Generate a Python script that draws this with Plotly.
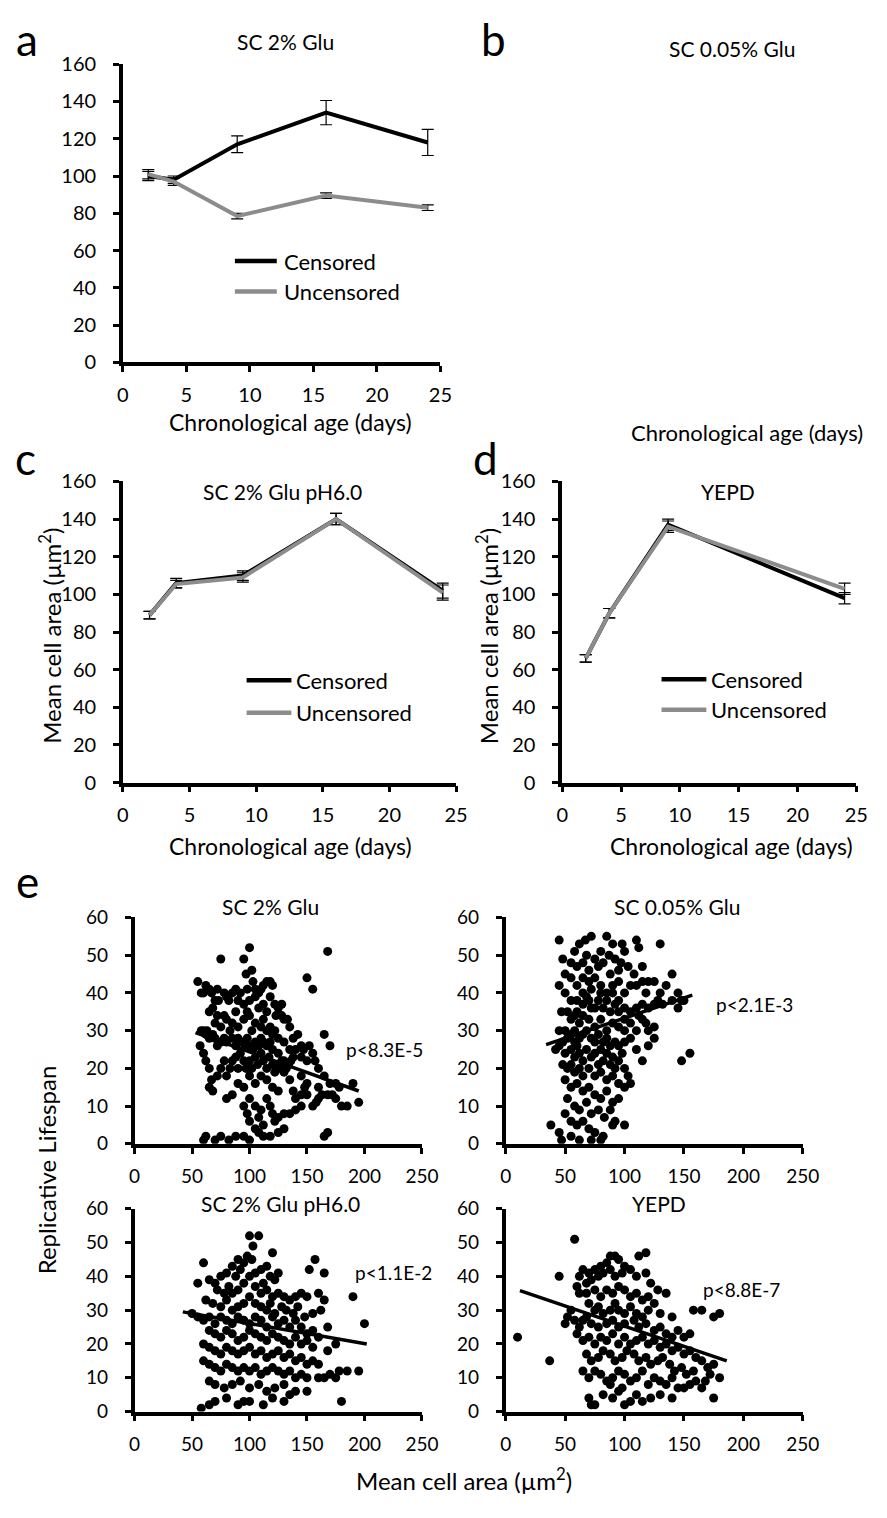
import plotly.graph_objects as go

W, H = 887, 1518
FONT = "Lato"

# ---------------- data: line panels ----------------
days_a = [2, 4, 9, 16, 24]
a_cens = [100, 98, 117, 134, 118]
a_cens_err = [2.5, 2, 4.5, 6.5, 7]
a_unc = [101, 97, 78.5, 89.5, 83]
a_unc_err = [2.5, 2, 1.5, 1.5, 1.5]

days_c = [2, 4, 9, 16, 24]
c_cens = [89, 106, 110, 140, 102]
c_cens_err = [2, 2.5, 2.5, 3, 4]
c_unc = [89, 105.5, 109, 140, 101]
c_unc_err = [2, 2, 2.5, 3, 4]

days_d = [2, 4, 9, 24]
d_cens = [66, 90, 137, 98]
d_cens_err = [2, 2.5, 3, 3]
d_unc = [66, 90, 136, 103]
d_unc_err = [2, 2.5, 3, 3]

series_names = ["Censored", "Uncensored"]

# ---------------- data: scatter panels (mean cell area, lifespan) ----------------
e1_pts = [(55,43),(58,40),(62,42),(65,41),(60,40),(67,40),(75,49),(72,41),(70,38),(73,38),(78,40),(80,39),(82,38),(85,40),(88,41),(90,38),(92,40),(95,49),(97,45),(98,41),(100,52),(102,46),(103,43),(105,41),(108,40),(110,41),(112,42),(115,43),(118,43),(120,42),(100,38),(95,37),(105,39),(112,37),(118,39),(150,44),(155,41),(168,51),(122,37),(130,33),(133,33),(128,34),(125,36),(115,35),(108,36),(98,35),(88,35),(78,34),(72,34),(68,36),(65,35),(70,32),(75,31),(80,33),(85,32),(90,31),(95,33),(100,34),(102,30),(105,32),(110,31),(112,33),(115,30),(118,31),(120,29),(122,30),(125,28),(130,27),(135,25),(140,25),(145,23),(150,22),(147,25),(145,26),(152,26),(155,24),(157,22),(165,29),(160,20),(165,18),(170,16),(175,16),(185,10),(190,16),(195,11),(180,10),(175,12),(172,13),(168,13),(178,15),(160,12),(155,10),(150,13),(145,10),(140,12),(138,14),(135,17),(130,19),(128,22),(125,24),(120,25),(118,27),(115,26),(112,27),(110,28),(108,26),(105,27),(103,25),(100,26),(98,28),(96,26),(93,27),(90,28),(88,26),(85,28),(83,30),(80,27),(78,28),(75,27),(72,26),(70,28),(65,28),(58,30),(60,30),(62,29),(63,30),(68,29),(60,24),(57,26),(62,22),(65,20),(67,17),(65,15),(68,14),(72,18),(75,20),(78,22),(80,18),(83,20),(85,22),(88,23),(90,20),(92,24),(95,22),(97,20),(100,22),(102,20),(105,23),(107,21),(110,24),(112,22),(115,20),(117,23),(120,21),(122,19),(125,20),(127,21),(130,22),(132,20),(134,21),(136,22),(138,23),(100,18),(105,16),(110,18),(115,17),(120,15),(125,14),(95,15),(90,16),(85,13),(80,12),(100,12),(105,10),(110,9),(115,12),(118,10),(120,8),(122,6),(125,7),(130,8),(135,8),(140,9),(108,7),(112,5),(100,6),(105,4),(95,10),(98,8),(60,1),(62,2),(70,1),(75,2),(82,1),(88,2),(95,2),(100,1),(108,3),(112,2),(118,2),(125,3),(130,4),(165,2),(168,3),(160,15),(128,37),(123,34),(135,31),(138,28),(142,29),(145,18),(148,15),(150,16),(170,26),(158,11),(163,13),(145,13)]
e2_pts = [(45,54),(62,53),(67,54),(72,55),(85,55),(90,53),(98,53),(100,51),(110,54),(112,52),(130,53),(48,49),(55,48),(60,47),(65,48),(70,46),(75,49),(78,47),(82,48),(88,45),(92,49),(97,48),(50,45),(55,44),(60,42),(65,44),(70,43),(72,41),(75,44),(80,42),(85,40),(90,42),(95,43),(100,40),(105,42),(110,42),(115,43),(118,40),(120,43),(125,43),(130,40),(135,42),(140,45),(45,42),(50,40),(55,38),(60,38),(65,37),(68,39),(72,36),(78,38),(82,36),(88,35),(92,37),(95,38),(100,36),(105,35),(110,36),(115,37),(120,36),(125,37),(128,38),(132,37),(140,38),(145,36),(148,38),(47,35),(52,35),(55,33),(58,34),(62,32),(65,34),(70,33),(75,31),(80,33),(85,30),(90,32),(95,31),(100,30),(105,32),(110,30),(115,33),(120,30),(125,31),(58,30),(62,28),(65,29),(68,30),(72,28),(75,27),(78,29),(82,27),(85,28),(88,26),(92,27),(95,26),(100,27),(105,28),(110,25),(115,22),(42,25),(45,26),(48,27),(50,24),(55,25),(58,23),(60,26),(62,24),(65,22),(68,25),(72,23),(75,24),(78,21),(80,25),(82,22),(85,24),(88,21),(90,23),(92,20),(95,22),(98,24),(100,20),(103,18),(48,21),(52,20),(55,21),(58,19),(62,20),(65,18),(70,20),(75,18),(80,19),(85,17),(90,18),(95,16),(100,15),(105,16),(50,17),(55,15),(60,16),(65,14),(70,15),(75,13),(80,12),(85,14),(90,11),(95,12),(52,12),(58,10),(62,9),(68,11),(72,8),(78,9),(83,7),(88,9),(92,6),(50,8),(55,6),(60,5),(65,6),(70,4),(75,3),(82,2),(90,5),(100,5),(38,5),(45,3),(47,1),(55,2),(62,1),(72,1),(80,1),(148,22),(155,24),(150,38),(145,40),(68,50),(58,51),(80,51),(87,50),(115,47),(108,45),(95,46),(103,47),(60,35),(65,40),(70,38),(75,36),(80,40),(85,38),(90,40),(95,35),(100,33),(45,30),(50,30),(52,28),(55,29),(58,27),(120,26),(125,28),(118,32),(112,34)]
e3_pts = [(100,52),(108,52),(103,49),(98,46),(102,45),(120,47),(60,44),(90,45),(95,44),(157,45),(165,41),(152,42),(55,38),(65,39),(70,38),(75,40),(80,41),(85,43),(88,40),(92,42),(105,41),(110,42),(115,43),(118,40),(122,39),(125,41),(112,38),(72,36),(78,35),(82,37),(85,35),(90,36),(95,38),(100,40),(105,37),(110,35),(115,36),(120,34),(125,35),(130,34),(135,33),(140,34),(145,35),(150,34),(160,35),(165,33),(190,34),(62,33),(68,32),(75,31),(80,33),(85,30),(90,31),(95,32),(100,34),(105,32),(110,31),(115,30),(118,32),(122,29),(128,31),(132,30),(138,29),(142,31),(148,28),(155,29),(162,30),(168,25),(50,29),(55,28),(60,27),(65,28),(70,26),(75,28),(80,27),(85,26),(90,28),(95,27),(100,26),(105,28),(110,27),(115,25),(120,28),(125,26),(130,27),(135,25),(140,27),(145,25),(150,23),(155,24),(160,22),(200,26),(65,24),(70,23),(75,22),(80,24),(85,23),(90,21),(95,22),(100,24),(105,23),(110,22),(115,21),(120,23),(125,22),(130,21),(135,20),(140,22),(145,20),(150,21),(155,19),(175,20),(168,18),(60,20),(65,19),(70,18),(75,17),(80,19),(85,18),(90,17),(95,18),(100,19),(105,17),(110,18),(115,16),(120,17),(125,18),(130,16),(135,17),(140,15),(145,16),(150,14),(155,15),(160,14),(60,15),(65,14),(70,13),(75,12),(80,14),(85,13),(90,12),(95,13),(100,12),(105,13),(110,11),(115,12),(120,13),(125,12),(130,11),(135,12),(140,10),(145,11),(150,10),(160,10),(165,10),(170,11),(175,10),(178,12),(185,12),(195,12),(65,9),(70,8),(78,7),(85,8),(92,9),(100,7),(108,8),(115,6),(122,7),(130,8),(140,6),(150,6),(58,1),(65,2),(70,3),(90,2),(95,3),(100,3),(120,4),(130,3),(135,5),(180,3),(112,2),(80,4)]
e4_pts = [(58,51),(10,22),(37,15),(118,47),(112,46),(88,46),(92,46),(95,45),(85,44),(80,43),(100,43),(82,41),(75,42),(70,41),(65,42),(62,40),(68,38),(72,39),(78,40),(88,42),(92,40),(98,41),(105,42),(110,40),(118,41),(122,38),(128,36),(135,35),(45,40),(60,37),(62,35),(68,35),(75,36),(80,34),(85,36),(90,35),(95,37),(100,36),(105,34),(110,35),(115,33),(120,34),(125,32),(70,32),(75,30),(78,31),(82,29),(88,30),(92,32),(95,30),(100,29),(105,31),(110,29),(115,28),(120,30),(130,29),(140,28),(55,30),(50,26),(52,28),(58,27),(62,25),(65,27),(68,28),(72,26),(78,25),(85,26),(90,27),(95,25),(100,26),(108,27),(112,25),(118,26),(125,24),(130,25),(135,23),(140,22),(145,24),(150,22),(155,23),(158,30),(165,30),(175,28),(180,29),(60,23),(65,21),(70,22),(75,20),(80,22),(85,21),(90,23),(95,20),(100,22),(105,20),(110,21),(115,22),(120,20),(125,21),(130,19),(135,20),(140,18),(145,19),(150,17),(155,18),(160,16),(165,15),(170,13),(175,14),(68,17),(72,15),(78,16),(82,18),(88,17),(92,15),(98,16),(102,18),(108,17),(112,15),(118,16),(122,14),(128,15),(132,16),(138,14),(142,12),(148,13),(152,11),(158,12),(168,9),(172,11),(180,10),(65,12),(70,10),(75,12),(80,11),(85,9),(90,10),(95,12),(100,11),(105,9),(110,10),(115,12),(120,8),(125,10),(130,9),(135,8),(140,10),(145,7),(150,7),(155,8),(160,9),(165,7),(175,4),(70,4),(72,2),(75,2),(82,5),(90,4),(95,6),(100,2),(105,3),(110,5),(115,3),(122,4),(130,5),(140,4),(88,8),(98,7)]

# regression lines (x endpoints, y endpoints)
e1_fit_x, e1_fit_y = [53, 195], [29.5, 14]
e2_fit_x, e2_fit_y = [34, 157], [26.3, 39.4]
e3_fit_x, e3_fit_y = [42, 202], [29.5, 20]
e4_fit_x, e4_fit_y = [12, 186], [35.8, 15]

e_titles = ["SC 2% Glu", "SC 0.05% Glu", "SC 2% Glu pH6.0", "YEPD"]
p_labels = ["p<8.3E-5", "p<2.1E-3", "p<1.1E-2", "p<8.8E-7"]
p_pos = [(182, 25), (175, 37), (190, 41), (164, 36)]   # data coords of p-value labels

# ---------------- helpers ----------------
def PX(x): return x / W
def PY(y): return 1 - y / H

fig = go.Figure()
BLACK = "#000000"
GREY = "#8c8c8c"

def add_line_panel(ax, days, cens, cens_err, unc, unc_err):
    xa = "x" if ax == 1 else f"x{ax}"
    ya = "y" if ax == 1 else f"y{ax}"
    for vals, err, col in ((cens, cens_err, BLACK), (unc, unc_err, GREY)):
        fig.add_trace(go.Scatter(x=days, y=vals, mode="lines", showlegend=False,
                                 line=dict(color=col, width=4),
                                 error_y=dict(type="data", array=err, color=BLACK, thickness=1.2, width=6),
                                 xaxis=xa, yaxis=ya))

add_line_panel(1, days_a, a_cens, a_cens_err, a_unc, a_unc_err)
add_line_panel(2, days_c, c_cens, c_cens_err, c_unc, c_unc_err)
add_line_panel(3, days_d, d_cens, d_cens_err, d_unc, d_unc_err)

scat = [(e1_pts, e1_fit_x, e1_fit_y), (e2_pts, e2_fit_x, e2_fit_y),
        (e3_pts, e3_fit_x, e3_fit_y), (e4_pts, e4_fit_x, e4_fit_y)]
for i, (pts, fx, fy) in enumerate(scat):
    n = 4 + i
    xs = [p[0] for p in pts]
    ys = [p[1] for p in pts]
    fig.add_trace(go.Scatter(x=xs, y=ys, mode="markers", showlegend=False,
                             marker=dict(color=BLACK, size=9, line=dict(width=0)),
                             xaxis=f"x{n}", yaxis=f"y{n}"))
    fig.add_trace(go.Scatter(x=fx, y=fy, mode="lines", showlegend=False,
                             line=dict(color=BLACK, width=3.5),
                             xaxis=f"x{n}", yaxis=f"y{n}"))

axis_common = dict(showline=True, linecolor=BLACK, linewidth=3.5, ticks="outside",
                   tickwidth=2.5, ticklen=6, tickcolor=BLACK, showgrid=False, zeroline=False,
                   tickfont=dict(family=FONT, size=20, color=BLACK), fixedrange=True)

def xdom(l, r): return [PX(l), PX(r)]
def ydom(t, b): return [PY(b), PY(t)]

layout_axes = {}
line_pos = [((120, 446), (52, 355)), ((120, 462), (476, 782)), ((571, 873), (476, 782))]
for i, ((l, r), (t, b)) in enumerate(line_pos):
    sx = "" if i == 0 else str(i + 1)
    layout_axes[f"xaxis{sx}"] = dict(axis_common, domain=xdom(l, r), range=[0, 25], dtick=5,
                                     anchor=f"y{sx}", ticklabelstandoff=6)
    layout_axes[f"yaxis{sx}"] = dict(axis_common, domain=ydom(t, b), range=[0, 160], dtick=20,
                                     anchor=f"x{sx}", ticklabelstandoff=13)

sc_font = dict(family=FONT, size=19, color=BLACK)
sc_pos = [((132, 427), (919, 1149)), ((513, 818), (919, 1149)),
          ((132, 427), (1215, 1421)), ((513, 818), (1215, 1421))]
for i, ((l, r), (t, b)) in enumerate(sc_pos):
    n = 4 + i
    layout_axes[f"xaxis{n}"] = dict(axis_common, domain=xdom(l, r), range=[0, 250], dtick=50,
                                    anchor=f"y{n}", tickfont=sc_font, ticklabelstandoff=7)
    layout_axes[f"yaxis{n}"] = dict(axis_common, domain=ydom(t, b), range=[0, 60], dtick=10,
                                    anchor=f"x{n}", tickfont=sc_font, ticklabelstandoff=13)

ann = []
def txt(x, y, s, size=20, angle=0, xanchor="center", xref="paper", yref="paper"):
    ann.append(dict(x=PX(x) if xref == "paper" else x, y=PY(y) if yref == "paper" else y,
                    xref=xref, yref=yref, text=s, showarrow=False,
                    font=dict(family=FONT, size=size, color=BLACK), textangle=angle,
                    xanchor=xanchor, yanchor="middle"))

# panel letters
txt(22, 26, "a", 44); txt(500, 26, "b", 44)
txt(20, 452, "c", 44); txt(492, 452, "d", 44)
txt(22, 882, "e", 44)
# line panel titles
txt(287, 29, "SC 2% Glu", 21)
txt(745, 36, "SC 0.05% Glu", 21)
txt(284, 486, "SC 2% Glu pH6.0", 21)
txt(741, 486, "YEPD", 21)
# x axis titles
txt(292, 416, "Chronological age (days)", 23)
txt(882, 426, "Chronological age (days)", 22, xanchor="right")
txt(292, 846, "Chronological age (days)", 23)
txt(745, 846, "Chronological age (days)", 23)
# y titles
txt(45, 633, "Mean cell area (µm<sup>2</sup>)", 24, -90)
txt(494, 633, "Mean cell area (µm<sup>2</sup>)", 24, -90)
txt(42, 1175, "Replicative Lifespan", 24, -90)
txt(470, 1490, "Mean cell area (µm<sup>2</sup>)", 24)
# scatter titles & p-values
txt(272, 908, e_titles[0], 21); txt(689, 908, e_titles[1], 21)
txt(282, 1210, e_titles[2], 21); txt(670, 1210, e_titles[3], 21)
for i, (s, (px_, py_)) in enumerate(zip(p_labels, p_pos)):
    txt(px_, py_, s, 19, xanchor="left", xref=f"x{4+i}", yref=f"y{4+i}")

# legend keys (drawn as short line samples + labels)
shapes = []
legends = [((235, 278), (252, 283), 283), ((247, 293), (678, 711), 296), ((673, 719), (677, 708), 722)]
for (x0, x1), ys, tx in legends:
    for yy, col, name in zip(ys, (BLACK, GREY), series_names):
        shapes.append(dict(type="line", xref="paper", yref="paper", x0=PX(x0), x1=PX(x1),
                           y0=PY(yy), y1=PY(yy), line=dict(color=col, width=4.5)))
        txt(tx, yy, name, 22, xanchor="left")

fig.update_layout(
    width=W, height=H, margin=dict(l=0, r=0, t=0, b=0),
    paper_bgcolor="white", plot_bgcolor="white",
    annotations=ann, shapes=shapes, showlegend=False,
    **layout_axes,
)

fig.write_html("out.html", config={"displayModeBar": False},
               post_script="document.body.style.margin='0px';")
